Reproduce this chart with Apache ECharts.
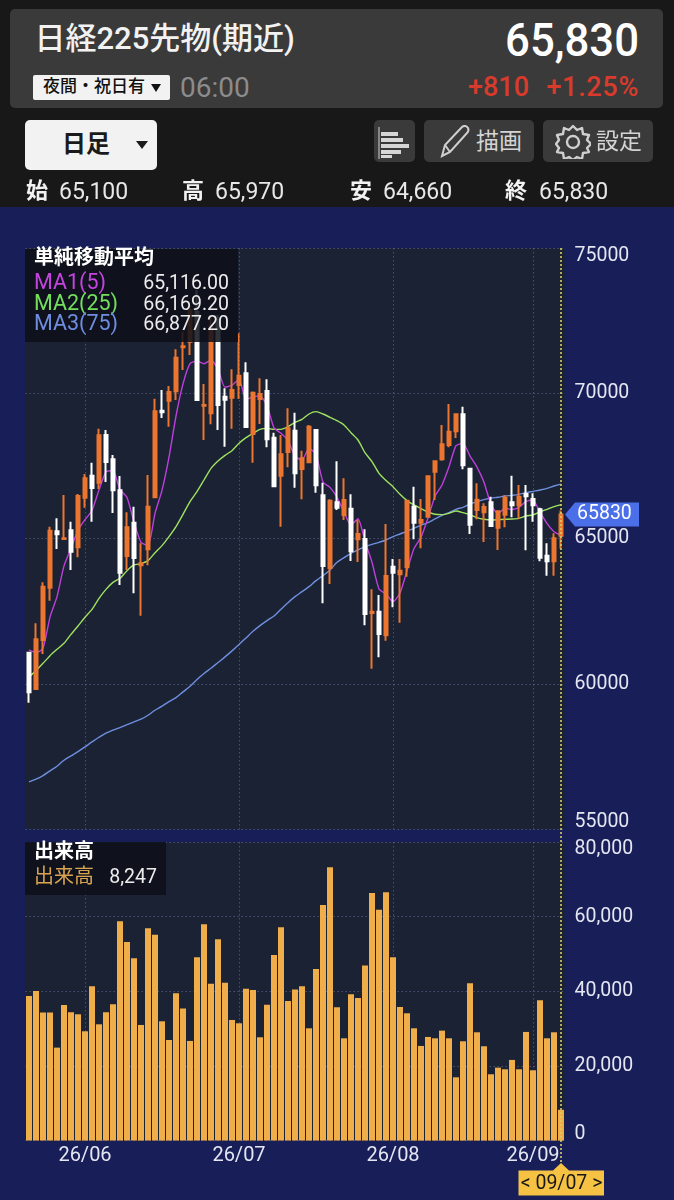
<!DOCTYPE html>
<html lang="ja"><head><meta charset="utf-8"><title>日経225先物(期近)</title>
<script src="https://cdn.jsdelivr.net/npm/echarts@6/dist/echarts.min.js"></script>
<style>
html,body{margin:0;padding:0;background:#181818;width:674px;height:1200px;overflow:hidden;font-family:Roboto,"Noto Sans CJK JP",sans-serif}
#bg{position:absolute;left:0;top:207px;width:674px;height:993px;background:#181e57}
#c{position:absolute;left:0;top:0;width:674px;height:1200px}
.a{position:absolute;white-space:nowrap;line-height:1}
.box{position:absolute;border-radius:5px;background:#3a3a3a}
</style></head><body>
<div id="bg"></div><div id="c"></div>
<div class="box" style="left:10px;top:9px;width:653px;height:99px"></div>
<div class="a" style="left:34.5px;top:23px;font-size:31px;font-weight:500;color:#f2f2f2">日経225先物(期近)</div>
<div class="a" style="right:35px;top:17px;font-size:46px;font-weight:500;color:#fff;transform:scaleX(.95);transform-origin:right center">65,830</div>
<div class="a" style="left:33px;top:75px;width:137px;height:25px;background:#f2f2f2;border-radius:2px"></div>
<div class="a" style="left:43px;top:78px;font-size:17px;font-weight:500;color:#111">夜間・祝日有</div>
<div class="a" style="left:151px;top:84px;width:0;height:0;border-left:5.5px solid transparent;border-right:5.5px solid transparent;border-top:8px solid #111"></div>
<div class="a" style="left:180px;top:74px;font-size:28px;color:#8c8c8c">06:00</div>
<div class="a" style="left:468px;top:74px;font-size:27px;font-weight:500;color:#d93a2c">+810</div>
<div class="a" style="right:35px;top:74px;font-size:27px;font-weight:500;color:#d93a2c;letter-spacing:.7px">+1.25%</div>
<div class="a" style="left:25px;top:120px;width:132px;height:50px;background:#f2f2f2;border-radius:5px"></div>
<div class="a" style="left:62px;top:132px;font-size:24px;font-weight:700;color:#1a1a1a">日足</div>
<div class="a" style="left:136px;top:141px;width:0;height:0;border-left:6.5px solid transparent;border-right:6.5px solid transparent;border-top:8px solid #1a1a1a"></div>
<div class="box" style="left:374px;top:120px;width:41px;height:42px"></div>
<svg class="a" style="left:374px;top:120px" width="41" height="42"><path d="M5 7v32" stroke="#bbb" stroke-width="1.2"/><g fill="#d6d6d6"><rect x="7" y="12" width="17" height="4"/><rect x="7" y="18" width="22" height="4"/><rect x="7" y="24" width="28" height="4"/><rect x="7" y="30" width="20" height="4" /><rect x="7" y="35" width="11" height="3"/></g></svg>
<div class="box" style="left:424px;top:120px;width:110px;height:42px"></div>
<svg class="a" style="left:436px;top:122px" width="38" height="38" fill="none" stroke="#cfcfcf" stroke-width="2"><path d="M6 34l3-11L26 5c2-2 5-1 6 1s1 3-1 5L14 30z"/><path d="M9 23l5 7"/></svg>
<div class="a" style="left:476px;top:130px;font-size:23px;color:#d4d4d4">描画</div>
<div class="box" style="left:543px;top:120px;width:110px;height:42px"></div>
<svg class="a" style="left:555px;top:123px" width="36" height="36" fill="none" stroke="#cfcfcf" stroke-width="2.4"><path d="M18 3l4 4 5-2 1 6 6 1-2 5 4 4-4 4 2 4-6 1-1 6-5-2-4 3-4-3-5 2-1-6-6-1 2-4-3-4 3-4-2-5 6-1 1-6 5 2z" stroke-linejoin="round"/><circle cx="18" cy="19" r="6"/></svg>
<div class="a" style="left:596px;top:130px;font-size:23px;color:#d4d4d4">設定</div>
<div class="a" style="left:26px;top:180px;font-size:22px;font-weight:700;color:#f2f2f2">始</div><div class="a" style="left:59px;top:180px;font-size:23px;color:#e8e8e8">65,100</div>
<div class="a" style="left:182px;top:180px;font-size:22px;font-weight:700;color:#f2f2f2">高</div><div class="a" style="left:215px;top:180px;font-size:23px;color:#e8e8e8">65,970</div>
<div class="a" style="left:350px;top:180px;font-size:22px;font-weight:700;color:#f2f2f2">安</div><div class="a" style="left:383px;top:180px;font-size:23px;color:#e8e8e8">64,660</div>
<div class="a" style="left:505px;top:180px;font-size:22px;font-weight:700;color:#f2f2f2">終</div><div class="a" style="left:539px;top:180px;font-size:23px;color:#e8e8e8">65,830</div>
<script>
const categories = [
"26/05/20","26/05/21","26/05/22","26/05/25","26/05/26","26/05/27","26/05/28","26/05/29",
"26/06/01","26/06/02","26/06/03","26/06/04","26/06/05","26/06/08","26/06/09","26/06/10","26/06/11","26/06/12","26/06/15","26/06/16","26/06/17","26/06/18","26/06/19","26/06/22","26/06/23","26/06/24","26/06/25","26/06/26","26/06/29","26/06/30",
"26/07/01","26/07/02","26/07/03","26/07/06","26/07/07","26/07/08","26/07/09","26/07/10","26/07/13","26/07/14","26/07/15","26/07/16","26/07/17","26/07/21","26/07/22","26/07/23","26/07/24","26/07/27","26/07/28","26/07/29","26/07/30","26/07/31",
"26/08/03","26/08/04","26/08/05","26/08/06","26/08/07","26/08/10","26/08/12","26/08/13","26/08/14","26/08/17","26/08/18","26/08/19","26/08/20","26/08/21","26/08/24","26/08/25","26/08/26","26/08/27","26/08/28","26/08/31",
"26/09/01","26/09/02","26/09/03","26/09/04","26/09/07"];
const monthTicks = ["26/06/01","26/07/01","26/08/03","26/09/01"];
const opens = [61075,59825,61511,63312,65250,64990,65285,64700,66409,67166,66925,68565,67728,66661,64401,65548,64080,64630,66420,69402,69746,70068,71583,71778,72810,69575,69312,72523,69884,69850,70285,70687,68599,69804,70079,68473,67166,67980,68714,67395,67624,68737,66489,63988,66248,65812,66030,64975,64986,62440,62486,61672,64035,63771,64023,66100,65549,65755,67304,67728,68221,68692,69277,67407,65985,65905,66249,65377,65824,66249,66145,66535,66363,66008,64413,64218,65100];
const closes = [59710,61534,63346,65273,65147,65010,64550,66466,67074,66741,68553,67636,66661,63828,65388,64332,64150,66099,69379,69345,70045,71226,71620,72867,69770,69600,72294,69598,69781,70113,70607,68840,70022,69976,68416,66799,67900,68794,67246,67762,68852,66833,64057,66305,66065,66328,64562,65158,62406,62480,61717,63713,63828,63897,66306,65549,65641,67143,67659,68244,68680,69277,67522,65480,66340,66088,65434,65939,66409,66145,66444,66455,66145,64345,64218,65010,65830];
const lows = [59355,59800,61029,62864,64642,64975,63920,64355,66065,65583,66707,66948,65881,63403,63920,63117,62348,64080,66385,69150,68852,69769,70803,71319,69770,68394,68933,68738,68164,68783,69804,68817,67613,68943,68141,66787,65411,67452,66753,66351,67590,66581,62773,63438,65984,65640,64229,64195,62016,60525,60915,61488,62636,62108,63691,64975,64666,65733,66329,67682,68141,68462,67384,65159,65664,64884,65420,64608,65388,65732,65687,64597,65583,64218,63725,63725,64660];
const highs = [61100,62084,63495,65411,65698,66500,65583,66535,67223,67613,68783,68737,67877,67154,65904,66099,64837,67188,69815,70113,70251,71513,72122,73040,73555,70321,72638,72695,70171,70825,72064,71065,70060,70515,70480,68645,68565,69483,69333,68026,68909,68750,66925,66351,67659,67074,66523,65640,65319,63254,63059,65502,64299,64299,66329,66788,66363,67160,67682,68910,69632,69290,69540,67420,66902,66214,66444,65950,66489,67166,66845,66845,66558,66065,64838,65182,65970];
const ma1 = [61167,61075,61224,62300,63002,64062,64665,65289,65649,65968,66677,67294,67333,66684,66413,65569,64872,64759,65870,66661,67804,69219,70323,71021,71106,71017,71150,70826,70209,70277,70479,69788,69873,69912,69572,68811,68623,68377,67831,67700,68111,67897,66950,66762,66422,65918,65463,65684,64904,64187,63265,63095,62829,63127,63892,64659,65044,65707,66460,66847,67473,68201,68276,67841,67460,66941,66173,65856,66042,66003,66074,66278,66320,65907,65521,65235,65116];
const ma2 = [60249,60456,60708,60972,61190,61396,61706,61993,62291,62566,62945,63254,63495,63633,63897,64092,64138,64241,64516,64757,65067,65411,65835,66271,66615,67017,67418,67670,67865,68026,68278,68473,68622,68760,68794,68760,68760,68852,69001,69104,69288,69368,69288,69173,69058,68909,68645,68393,67957,67647,67246,67000,66788,66524,66306,66157,66031,65916,65836,65824,65870,65950,65893,65824,65721,65664,65641,65652,65664,65675,65698,65778,65813,65916,66008,66100,66169];
const ma3 = [56628,56720,56846,57007,57167,57374,57523,57672,57832,58004,58165,58303,58406,58498,58601,58693,58784,58922,59094,59232,59392,59530,59725,59920,60149,60356,60539,60734,60929,61136,61354,61583,61812,62007,62180,62337,62566,62796,63002,63174,63346,63553,63724,63920,64183,64344,64493,64608,64723,64803,64872,64952,65067,65159,65251,65354,65457,65549,65675,65801,65893,66008,66077,66191,66272,66340,66398,66421,66466,66489,66524,66581,66627,66673,66730,66811,66877];
const volumes = [38750,40090,34290,34290,24910,36340,34380,33840,29290,41340,31160,34380,36520,58750,53210,48840,30980,56880,55180,31960,26960,39460,35360,26700,49110,57950,42050,53930,42320,32320,31430,40710,40360,27680,36430,49730,57140,37410,40450,41340,30090,45980,63130,73210,35710,27410,39200,38210,46880,66340,61880,66520,49110,35800,34110,30090,25360,27770,27410,29460,27410,16960,26610,42140,29020,25270,17770,19550,19110,21610,19110,29110,18840,37590,27410,29020,8247];
const priceTicks = [55000,60000,65000,70000,75000];
const volumeTicks = [0,20000,40000,60000,80000];
const maLegend = [["MA1(5)","65,116.00","#c544e0"],["MA2(25)","66,169.20","#72e05c"],["MA3(75)","66,877.20","#6f8ee0"]];

const FONT = 'Roboto,"Noto Sans CJK JP",sans-serif';
const DOT = {color:'rgba(120,130,175,0.5)',type:[1.5,2.5],width:1};
const isTick = (i,v)=>monthTicks.includes(v);
const xBase = {type:'category',data:categories,boundaryGap:true,
  axisLine:{show:false},axisTick:{show:false},
  splitLine:{show:true,interval:isTick,alignWithLabel:true,lineStyle:DOT}};
const yBase = {position:'right',scale:false,
  axisLine:{show:false},axisTick:{show:false},splitLine:{show:true,lineStyle:DOT}};
const labelBase = {color:'#e4e6f2',fontFamily:FONT,fontSize:19.5,margin:10,verticalAlign:'middle',
  rich:{up16:{padding:[16,0,0,0]},up14:{padding:[14,0,0,0]},mid:{padding:[0,0,0,0]},low14:{padding:[0,0,14,0]},low13:{padding:[0,0,13,0]}}};
const candleData = categories.map((_,i)=>[opens[i],closes[i],lows[i],highs[i]]);
const line = (name,data,color,z,smooth)=>({name,type:'line',data,xAxisIndex:0,yAxisIndex:0,showSymbol:false,symbol:'none',z,silent:true,smooth,
  lineStyle:{color,width:1.4},itemStyle:{color},clip:true});

const chart = echarts.init(document.getElementById('c'),null,{renderer:'canvas'});
chart.setOption({
  animation:false,backgroundColor:'transparent',
  textStyle:{fontFamily:FONT},
  grid:[
    {left:25.5,width:539,top:248,height:581.2,show:true,backgroundColor:'#1a2233',borderWidth:0,containLabel:false},
    {left:25.5,width:539,top:842,height:298.6,show:true,backgroundColor:'#1a2233',borderWidth:0,containLabel:false}
  ],
  xAxis:[
    Object.assign({gridIndex:0,axisLabel:{show:false}},xBase),
    Object.assign({gridIndex:1,axisLabel:{show:true,interval:isTick,color:'#e4e6f2',fontFamily:FONT,fontSize:20,margin:5,
      formatter:v=>v.slice(0,5),hideOverlap:false}},xBase)
  ],
  yAxis:[
    Object.assign({gridIndex:0,type:'value',min:priceTicks[0],max:priceTicks[4],interval:5000,
      axisLabel:Object.assign({formatter:v=>`{${v===priceTicks[4]?'up16':v===priceTicks[0]?'low14':'mid'}|${v}}`},labelBase)},yBase),
    Object.assign({gridIndex:1,type:'value',min:volumeTicks[0],max:volumeTicks[4],interval:20000,
      axisLabel:Object.assign({formatter:v=>`{${v===volumeTicks[4]?'up14':v===volumeTicks[0]?'low13':'mid'}|${echarts.format.addCommas(v)}}`},labelBase)},yBase)
  ],
  series:[
    line('MA3',ma3,maLegend[2][2],3,0.4),
    line('MA2',ma2,'#9fe35f',3,0.2),
    line('MA1',ma1,'#bf3fdc',3,0.2),
    {name:'日足',type:'candlestick',xAxisIndex:0,yAxisIndex:0,data:candleData,z:4,barWidth:4,silent:true,
      itemStyle:{color:'#ec7630',color0:'#ffffff',borderColor:'#ec7630',borderColor0:'#ffffff',borderWidth:2}},
    {name:'出来高',type:'bar',xAxisIndex:1,yAxisIndex:1,data:volumes,barWidth:6,silent:true,z:3,
      itemStyle:{color:'#f0ae4a'}}
  ]
});

const xLast = chart.convertToPixel({xAxisIndex:0},categories[categories.length-1]);
const yLast = chart.convertToPixel({yAxisIndex:0},closes[closes.length-1]);
const txt = (x,y,text,o)=>({type:'text',z:50,style:Object.assign({x,y,text,fontFamily:FONT,fontSize:19.5,fill:'#f0f0f0',verticalAlign:'middle',align:'left'},o||{})});
chart.setOption({graphic:{elements:[
  {type:'rect',z:40,shape:{x:25,y:249,width:213,height:93},style:{fill:'rgba(14,16,26,0.86)'}},
  txt(34,259,'単純移動平均',{fontWeight:700,fontSize:20,fill:'#ffffff'}),
  ...maLegend.flatMap((m,i)=>[
    txt(34,[284,305,325][i],m[0],{fill:m[2],fontSize:21.5}),
    txt(229,[284,305,325][i],m[1],{align:'right',fill:'#ececec'})
  ]),
  {type:'rect',z:40,shape:{x:25,y:842,width:141,height:53},style:{fill:'rgba(14,16,26,0.86)'}},
  txt(34,853,'出来高',{fontWeight:700,fontSize:20,fill:'#ffffff'}),
  txt(34,878,'出来高',{fill:'#d9a452',fontSize:20}),
  txt(157,878,'8,247',{align:'right',fill:'#ececec'}),
  {type:'line',z:45,shape:{x1:xLast,y1:248,x2:xLast,y2:1166},style:{stroke:'#d8cf6a',lineWidth:1.6,lineDash:[2,2]}},
  {type:'polygon',z:46,shape:{points:[[xLast+4,yLast],[xLast+14,yLast-12],[639,yLast-12],[639,yLast+12],[xLast+14,yLast+12]]},style:{fill:'#4b6fe8'}},
  txt(577,yLast,'65830',{fill:'#ffffff',fontSize:19.5,z:50}),
  {type:'polygon',z:46,shape:{points:[[xLast,1163],[xLast+8,1170.5],[604,1170.5],[604,1195.5],[518.5,1195.5],[518.5,1170.5],[xLast-8,1170.5]]},style:{fill:'#f6c244'}},
  txt(561.5,1184,'< 09/07 >',{align:'center',fill:'#171717',fontSize:19.5})
]}});
</script>
</body></html>
